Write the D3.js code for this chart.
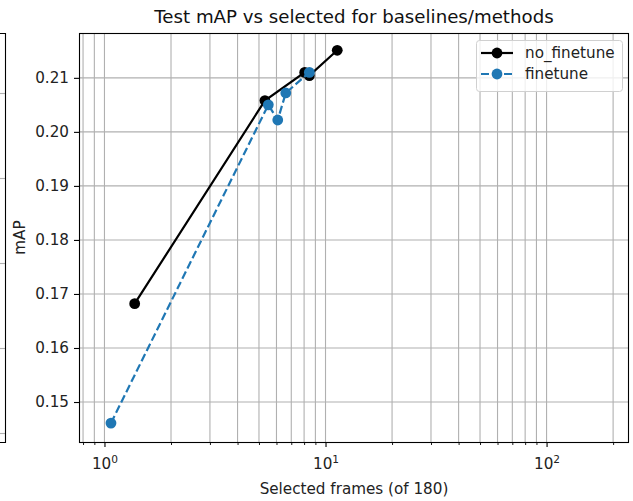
<!DOCTYPE html>
<html>
<head>
<meta charset="utf-8">
<script src="https://cdn.jsdelivr.net/npm/d3@7"></script>
<style>
  body { margin: 0; background: #fff; }
  svg { display: block; font-family: "DejaVu Sans", sans-serif; }
</style>
</head>
<body>
<svg id="chart" width="633" height="501"></svg>
<script>
// ---- data ----
const seriesNames = ["no_finetune", "finetune"];
const noFinetuneX = [1.37, 5.32, 8.05, 8.45, 11.3];
const noFinetuneY = [0.1682, 0.2058, 0.2110, 0.2104, 0.2151];
const finetuneX = [1.07, 5.51, 6.08, 6.61, 8.45];
const finetuneY = [0.1461, 0.2050, 0.2022, 0.2072, 0.2110];
const yTicks = [0.15, 0.16, 0.17, 0.18, 0.19, 0.20, 0.21];
const xMajorTicks = [1, 10, 100];
const xMinorTicks = [0.8, 0.9, 2, 3, 4, 5, 6, 7, 8, 9, 20, 30, 40, 50, 60, 70, 80, 90, 200];
const neighborGrid = [0, 1, 2, 3, 4]; // cropped neighbouring panel's gridlines
const title = "Test mAP vs selected for baselines/methods";
const xLabel = "Selected frames (of 180)";
const yLabel = "mAP";

const svg = d3.select("#chart");
const L = 79, R = 629, T = 33, B = 442;
const FS = 15.2;

const x = d3.scaleLog().domain([0.767, 236]).range([L, R]);
const y = d3.scaleLinear().domain([0.1426, 0.2183]).range([B, T]);

// --- cropped neighbouring panel at far left ---
const ny = d3.scaleLinear().domain([-0.106, 4.706]).range([B, T]);
const nb = svg.append("g");
nb.selectAll("line.ng").data(neighborGrid).join("line")
  .attr("x1", 0).attr("x2", 5.5)
  .attr("y1", d => Math.round(ny(d)) + 0.5).attr("y2", d => Math.round(ny(d)) + 0.5)
  .attr("stroke", "#b0b0b0").attr("stroke-width", 1.1);
nb.append("path")
  .attr("d", `M0,${T + 0.5}H5.5V${B + 0.5}H0`)
  .attr("fill", "none").attr("stroke", "#000").attr("stroke-width", 1.1);

// --- grid ---
const grid = svg.append("g");
grid.selectAll("line.gx").data(xMajorTicks.concat(xMinorTicks)).join("line")
  .attr("x1", d => x(d)).attr("x2", d => x(d))
  .attr("y1", T).attr("y2", B)
  .attr("stroke", "#b0b0b0").attr("stroke-width", 1.1);
grid.selectAll("line.gy").data(yTicks).join("line")
  .attr("x1", L).attr("x2", R)
  .attr("y1", d => y(d)).attr("y2", d => y(d))
  .attr("stroke", "#b0b0b0").attr("stroke-width", 1.1);

// --- axes ---
const yAxis = d3.axisLeft(y).tickValues(yTicks).tickFormat(d3.format(".2f")).tickSize(5).tickPadding(5);
const gy = svg.append("g").attr("transform", `translate(${L},0)`).call(yAxis);
gy.select(".domain").remove();
gy.selectAll("line").attr("stroke", "#000").attr("stroke-width", 1.1);
gy.selectAll("text").attr("font-size", FS).attr("fill", "#222").attr("font-family", "DejaVu Sans");

const xAxisMajor = d3.axisBottom(x).tickValues(xMajorTicks).tickFormat("").tickSize(5);
const gx = svg.append("g").attr("transform", `translate(0,${B})`).call(xAxisMajor);
gx.select(".domain").remove();
gx.selectAll("line").attr("stroke", "#000").attr("stroke-width", 1.1);
gx.selectAll(".tick").each(function(d) {
  const t = d3.select(this).select("text")
    .attr("y", 16).attr("dy", "0.71em").attr("font-size", FS).attr("fill", "#222")
    .attr("font-family", "DejaVu Sans").attr("text-anchor", "middle").text(null);
  t.append("tspan").text("10");
  t.append("tspan").attr("font-size", 10.6).attr("dy", "-0.55em").text(Math.round(Math.log10(d)));
});
const xAxisMinor = d3.axisBottom(x).tickValues(xMinorTicks).tickFormat("").tickSize(3);
const gxm = svg.append("g").attr("transform", `translate(0,${B})`).call(xAxisMinor);
gxm.select(".domain").remove();
gxm.selectAll("line").attr("stroke", "#000").attr("stroke-width", 0.9);

// --- series ---
const lineGen = d3.line().x(d => x(d[0])).y(d => y(d[1]));
const black = d3.zip(noFinetuneX, noFinetuneY);
const blue = d3.zip(finetuneX, finetuneY);

svg.append("path").datum(black).attr("d", lineGen)
  .attr("fill", "none").attr("stroke", "#000").attr("stroke-width", 2.2);
svg.append("g").selectAll("circle").data(black).join("circle")
  .attr("cx", d => x(d[0])).attr("cy", d => y(d[1])).attr("r", 5.4)
  .attr("fill", "#000");

svg.append("path").datum(blue).attr("d", lineGen)
  .attr("fill", "none").attr("stroke", "#1f77b4").attr("stroke-width", 2.2)
  .attr("stroke-dasharray", "8,3.5");
svg.append("g").selectAll("circle").data(blue).join("circle")
  .attr("cx", d => x(d[0])).attr("cy", d => y(d[1])).attr("r", 5.4)
  .attr("fill", "#1f77b4");

// --- frame ---
svg.append("rect").attr("x", L + 0.5).attr("y", T + 0.5)
  .attr("width", R - L - 1).attr("height", B - T)
  .attr("fill", "none").attr("stroke", "#000").attr("stroke-width", 1.1);

// --- legend ---
const lg = svg.append("g");
lg.append("rect").attr("x", 476.5).attr("y", 40.5).attr("width", 146).attr("height", 51)
  .attr("rx", 3).attr("fill", "rgba(255,255,255,0.8)").attr("stroke", "#d0d0d0").attr("stroke-width", 1);
const colors = ["#000", "#1f77b4"];
const dashes = [null, "8,3.5"];
seriesNames.forEach((name, i) => {
  const yy = 53 + i * 21;
  lg.append("line").attr("x1", 481).attr("x2", 513).attr("y1", yy).attr("y2", yy)
    .attr("stroke", colors[i]).attr("stroke-width", 2.2).attr("stroke-dasharray", dashes[i]);
  lg.append("circle").attr("cx", 497).attr("cy", yy).attr("r", 5.4).attr("fill", colors[i]);
  lg.append("text").attr("x", 525).attr("y", yy).attr("dy", "0.35em")
    .attr("font-size", FS).attr("fill", "#222").text(name);
});

// --- labels ---
svg.append("text").attr("x", (L + R) / 2).attr("y", 23).attr("text-anchor", "middle")
  .attr("font-size", 18.2).attr("fill", "#111").text(title);
svg.append("text").attr("x", (L + R) / 2).attr("y", 494).attr("text-anchor", "middle")
  .attr("font-size", FS).attr("fill", "#222").text(xLabel);
svg.append("text").attr("transform", `translate(25,${(T + B) / 2}) rotate(-90)`)
  .attr("text-anchor", "middle").attr("font-size", FS).attr("fill", "#222").text(yLabel);
</script>
</body>
</html>
